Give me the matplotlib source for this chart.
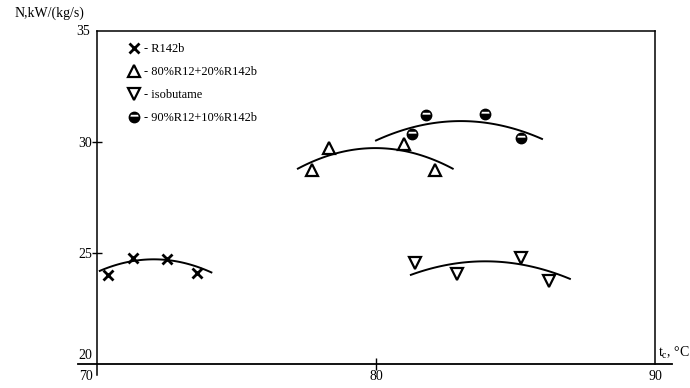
import numpy as np
import matplotlib.pyplot as plt
from matplotlib.path import Path
from matplotlib.legend_handler import HandlerTuple

plt.rcParams['font.family'] = ['Liberation Serif', 'DejaVu Serif']

# measured points for each refrigerant (t_c, N)
r142b_t = [70.4, 71.3, 72.5, 73.6]
r142b_n = [24.03, 24.78, 24.75, 24.10]
mix80_t = [77.7, 78.3, 81.0, 82.1]
mix80_n = [28.73, 29.72, 29.90, 28.75]
isob_t = [81.4, 82.9, 85.2, 86.2]
isob_n = [24.56, 24.06, 24.78, 23.75]
mix90_t = [81.3, 81.8, 83.9, 85.2]
mix90_n = [30.39, 31.25, 31.28, 30.17]

# trend curves: start, top, end
r142b_curve_t = [70.1, 72.1, 74.1]
r142b_curve_n = [24.20, 24.72, 24.13]
mix80_curve_t = [77.2, 79.5, 82.75]
mix80_curve_n = [28.81, 29.71, 28.81]
isob_curve_t = [81.25, 84.0, 86.95]
isob_curve_n = [24.02, 24.63, 23.84]
mix90_curve_t = [80.0, 82.8, 85.95]
mix90_curve_n = [30.08, 30.95, 30.15]

labels = ['- R142b', '- 80%R12+20%R142b', '- isobutame', '- 90%R12+10%R142b']

# half filled circle: black disc with a white band
band = Path([(0.5, 0.5), (-0.40, 0.08), (0.40, 0.08), (0.34, 0.26), (-0.34, 0.26), (-0.40, 0.08)],
            [Path.MOVETO, Path.MOVETO, Path.LINETO, Path.LINETO, Path.LINETO, Path.CLOSEPOLY])

fig = plt.figure(figsize=(6.9, 3.88), dpi=100)
ax = fig.add_axes([97/690, 1-364/388, (655-97)/690, (364-31.4)/388])
ax.set_xlim(70, 90)
ax.set_ylim(20, 35)

def trend(t, n):
    c = np.polyfit(t, n, 2)
    xs = np.linspace(t[0], t[-1], 100)
    ax.plot(xs, np.polyval(c, xs), color='black', lw=1.4)

trend(r142b_curve_t, r142b_curve_n)
trend(mix80_curve_t, mix80_curve_n)
trend(isob_curve_t, isob_curve_n)
trend(mix90_curve_t, mix90_curve_n)

h1, = ax.plot(r142b_t, r142b_n, 'x', color='black', ms=6.5, mew=2)
h2, = ax.plot(mix80_t, mix80_n, '^', mfc='white', mec='black', ms=8, mew=1.6)
h3, = ax.plot(isob_t, isob_n, 'v', mfc='white', mec='black', ms=8, mew=1.6)
h4, = ax.plot(mix90_t, mix90_n, 'o', color='black', ms=7.5)
h4b, = ax.plot(mix90_t, mix90_n, ls='none', marker=band, color='white', mew=0, ms=7.5)

leg = ax.legend(handles=[h1, h2, h3, (h4, h4b)], labels=labels,
                handler_map={tuple: HandlerTuple(ndivide=1, pad=0)},
                loc='upper left', bbox_to_anchor=(0.038, 0.995),
                frameon=False, fontsize=8.9, handlelength=1.0, handletextpad=0.3,
                labelspacing=0.9, borderpad=0.3, numpoints=1)

for s in ['top', 'right', 'left']:
    ax.spines[s].set_linewidth(1.1)
ax.spines['bottom'].set_visible(False)
# bottom axis line runs past the frame, left line runs below it
ax.plot([-0.034, 1.03], [0, 0], transform=ax.transAxes, color='black', lw=1.3, clip_on=False)
ax.plot([0, 0], [0, -0.033], transform=ax.transAxes, color='black', lw=1.1, clip_on=False)

ax.set_yticks([25, 30])
ax.set_yticklabels(['25', '30'])
ax.set_xticks([80])
ax.set_xticklabels([])
ax.tick_params(axis='y', direction='inout', length=7, width=1, labelsize=10, pad=0)
ax.tick_params(axis='x', direction='inout', length=8, width=1)

ax.text(-0.012, 35, '35', ha='right', va='center', fontsize=10, transform=ax.get_yaxis_transform())
ax.text(-0.008, 0.027, '20', ha='right', va='center', fontsize=10, transform=ax.transAxes)
ax.text(-0.008, -0.038, '70', ha='right', va='center', fontsize=10, transform=ax.transAxes)
ax.text(80, -0.038, '80', ha='center', va='center', fontsize=10, transform=ax.get_xaxis_transform())
ax.text(90, -0.038, '90', ha='center', va='center', fontsize=10, transform=ax.get_xaxis_transform())
ax.text(1.006, 0.033, r'$\mathregular{t_c}$, °C', ha='left', va='center', fontsize=10, transform=ax.transAxes)
fig.text(15/690, 1-13/388, 'N,kW/(kg/s)', ha='left', va='center', fontsize=10)

fig.savefig('out.png', dpi=100)
